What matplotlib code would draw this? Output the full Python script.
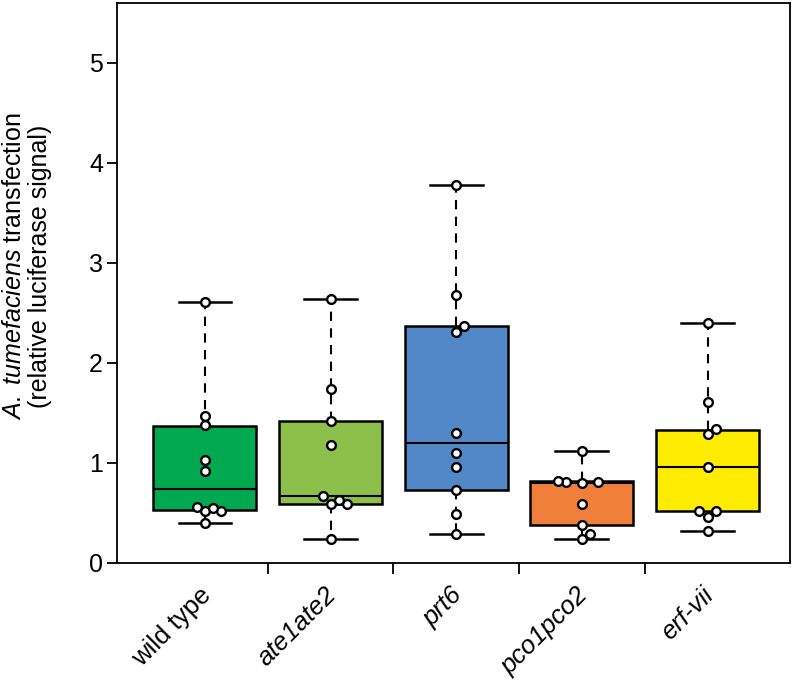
import numpy as np
import matplotlib
matplotlib.use('Agg')
import matplotlib.pyplot as plt

plt.rcParams['font.family'] = ['Liberation Sans', 'DejaVu Sans']
plt.rcParams['mathtext.fontset'] = 'custom'
plt.rcParams['mathtext.rm'] = 'Liberation Sans'
plt.rcParams['mathtext.it'] = 'Liberation Sans:italic'

# data
genotypes = ['wild type', 'ate1ate2', 'prt6', 'pco1pco2', 'erf-vii']
italic = [False, True, True, True, True]
colors = ['#00A84F', '#8DC04A', '#5287C8', '#EF7F3B', '#FFEC00']

wild_type = [2.61, 1.47, 1.38, 1.03, 0.92, 0.56, 0.55, 0.52, 0.52, 0.40]
ate1ate2 = [2.64, 1.74, 1.42, 1.18, 0.67, 0.63, 0.59, 0.59, 0.24]
prt6 = [3.78, 2.68, 2.37, 2.31, 1.30, 1.10, 0.96, 0.73, 0.49, 0.29]
pco1pco2 = [1.12, 0.82, 0.81, 0.81, 0.80, 0.59, 0.38, 0.29, 0.24]
erf_vii = [2.40, 1.61, 1.34, 1.29, 0.96, 0.52, 0.52, 0.46, 0.32]
groups = [wild_type, ate1ate2, prt6, pco1pco2, erf_vii]

# box quartiles as drawn in the figure
q1 = [0.53, 0.59, 0.73, 0.38, 0.52]
q3 = [1.37, 1.42, 2.37, 0.82, 1.33]

fig = plt.figure(figsize=(7.96, 6.89), dpi=100)
ax = fig.add_axes([0.147, 0.183, 0.846, 0.813])

stats = []
for i, vals in enumerate(groups):
    stats.append({'med': np.median(vals), 'q1': q1[i], 'q3': q3[i],
                  'whislo': min(vals), 'whishi': max(vals), 'fliers': []})

pos = np.arange(len(groups))
bp = ax.bxp(stats, positions=pos, widths=0.82, patch_artist=True,
            showfliers=False,
            boxprops=dict(linewidth=1.8, edgecolor='black'),
            medianprops=dict(color='black', linewidth=1.5),
            whiskerprops=dict(color='black', linewidth=1.5, linestyle=(0, (4.5, 3.5))),
            capprops=dict(color='black', linewidth=1.8),
            capwidths=0.42)
for patch, c in zip(bp['boxes'], colors):
    patch.set_facecolor(c)

ax.set_xlim(-0.70, 4.66)
ax.set_ylim(0, 5.6)
fig.canvas.draw()

# simple beeswarm in pixel space
diam = 8.5
for i, vals in enumerate(groups):
    placed = []
    xs, ys = [], []
    for v in sorted(vals):
        px, py = ax.transData.transform((pos[i], v))
        for k in [0, 1, -1, 2, -2, 3, -3]:
            cx = px + k * diam * 0.95
            ok = True
            for (ox, oy) in placed:
                if np.hypot(cx - ox, py - oy) < diam:
                    ok = False
                    break
            if ok:
                break
        placed.append((cx, py))
        dx, dy = ax.transData.inverted().transform((cx, py))
        xs.append(dx)
        ys.append(dy)
    ax.plot(xs, ys, 'o', markersize=6.3, markerfacecolor='white',
            markeredgecolor='black', markeredgewidth=1.7, zorder=5)

ax.set_yticks([0, 1, 2, 3, 4, 5])
ax.tick_params(axis='y', labelsize=18, length=7, width=1.3, direction='out', pad=3)
ax.set_xticks([0.5, 1.5, 2.5, 3.5])
ax.set_xticklabels([])
ax.tick_params(axis='x', length=8, width=1.3, direction='out')
for i, name in enumerate(genotypes):
    ax.text(pos[i] - 0.05, -0.2, name, rotation=45, ha='right', va='top',
            rotation_mode='anchor', fontsize=18.5,
            style='italic' if italic[i] else 'normal',
            transform=ax.transData)

for s in ax.spines.values():
    s.set_linewidth(1.3)

ax.set_ylabel(r'$\mathit{A.\ tumefaciens}$ transfection' + '\n(relative luciferase signal)',
              fontsize=18, linespacing=1.1)
ax.yaxis.set_label_coords(-0.097, 0.53)

fig.savefig('out.png', dpi=100)
